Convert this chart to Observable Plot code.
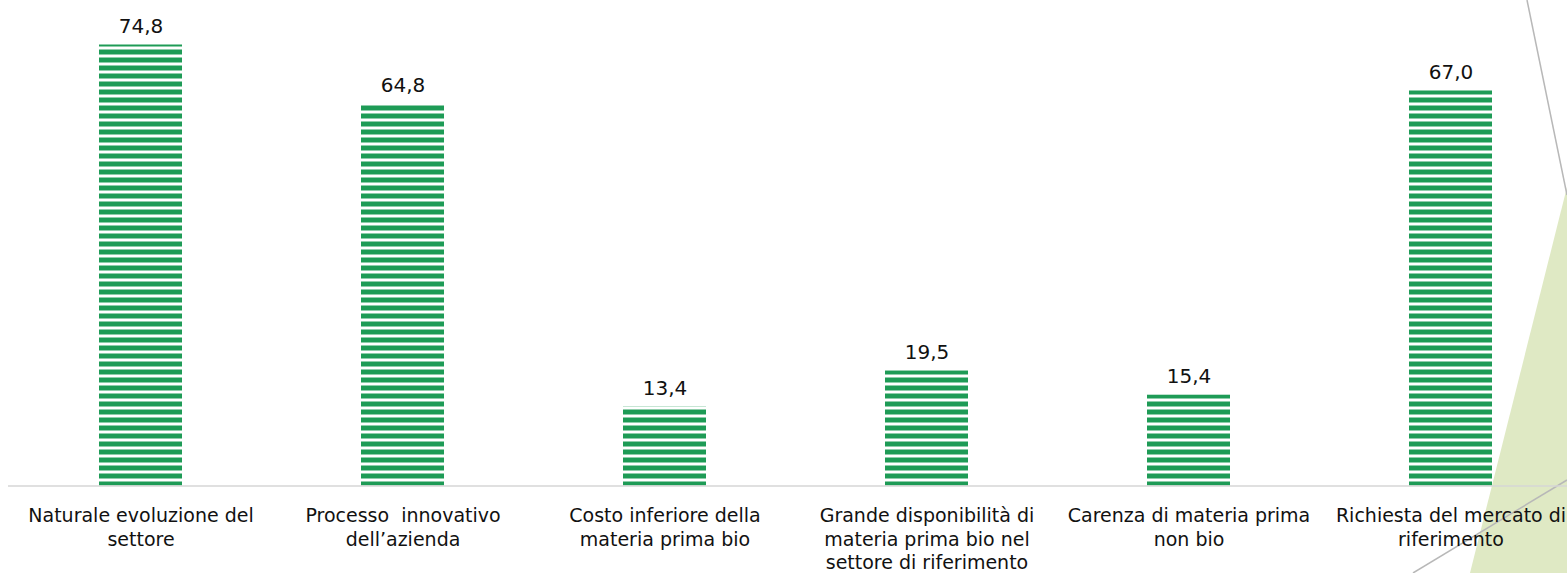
<!DOCTYPE html>
<html>
<head>
<meta charset="utf-8">
<script src="https://cdn.jsdelivr.net/npm/d3@7"></script>
<script src="https://cdn.jsdelivr.net/npm/@observablehq/plot@0.6"></script>
<style>
  html, body { margin: 0; padding: 0; background: #fff; }
  #chart { width: 1567px; height: 573px; overflow: hidden; }
</style>
</head>
<body>
<div id="chart"></div>
<script>
const categories = [
  "Naturale evoluzione del settore",
  "Processo innovativo dell’azienda",
  "Costo inferiore della materia prima bio",
  "Grande disponibilità di materia prima bio nel settore di riferimento",
  "Carenza di materia prima non bio",
  "Richiesta del mercato di riferimento"
];
const values = [74.8, 64.8, 13.4, 19.5, 15.4, 67.0];
const tickLabels = [
  "Naturale evoluzione del\nsettore",
  "Processo  innovativo\ndell’azienda",
  "Costo inferiore della\nmateria prima bio",
  "Grande disponibilità di\nmateria prima bio nel\nsettore di riferimento",
  "Carenza di materia prima\nnon bio",
  "Richiesta del mercato di\nriferimento"
];

const data = categories.map((c, i) => ({cat: c, value: values[i]}));
const labelMap = new Map(categories.map((c, i) => [c, tickLabels[i]]));
const fmt = v => d3.format(".1f")(v).replace(".", ",");

const GREEN = "#1e9b56";
const y0 = 485.5;
const pxPerUnit = 5.8957;

const chart = Plot.plot({
  width: 1567,
  height: 573,
  marginLeft: 8,
  marginRight: 0,
  marginTop: 0,
  marginBottom: 87.5,
  x: {domain: categories, range: [8, 1583], paddingInner: 0.684, paddingOuter: 0.342},
  y: {domain: [0, 80], range: [y0, y0 - 80 * pxPerUnit], axis: null},
  style: {fontFamily: "DejaVu Sans", color: "#111", background: "transparent", overflow: "visible"},
  marks: [
    Plot.barY(data, {x: "cat", y: "value", fill: "url(#stripes)"}),
    Plot.ruleY([0], {stroke: "#d6d6d6", strokeWidth: 1.5}),
    Plot.text(data, {x: "cat", y: "value", text: d => fmt(d.value), dy: -12.3, lineAnchor: "bottom", fontSize: 20, fill: "#111"}),
    Plot.axisX({tickSize: 0, tickPadding: 19, tickFormat: d => labelMap.get(d), lineHeight: 1.25, fontSize: 19, fill: "#111", label: null})
  ]
});

const svg = d3.select(chart);
// decorative slide background (non-data)
const deco = svg.insert("g", ":first-child").attr("class", "deco");
deco.append("polygon").attr("points", "1567,187 1470,573 1567,573").attr("fill", "#dfe9c4");
deco.append("line").attr("x1", 1527).attr("y1", 0).attr("x2", 1567).attr("y2", 195).attr("stroke", "#b8b8b8").attr("stroke-width", 1.5);
deco.append("line").attr("x1", 1413).attr("y1", 573).attr("x2", 1567).attr("y2", 480).attr("stroke", "#b8b8b8").attr("stroke-width", 1.5);

const defs = svg.insert("defs", ":first-child");
const pat = defs.append("pattern").attr("id", "stripes").attr("patternUnits", "userSpaceOnUse").attr("width", 8).attr("height", 8);
pat.append("rect").attr("width", 8).attr("height", 8).attr("fill", "#ffffff");
pat.append("rect").attr("y", 1.5).attr("width", 8).attr("height", 5).attr("fill", GREEN);

document.getElementById("chart").appendChild(chart);
</script>
</body>
</html>
